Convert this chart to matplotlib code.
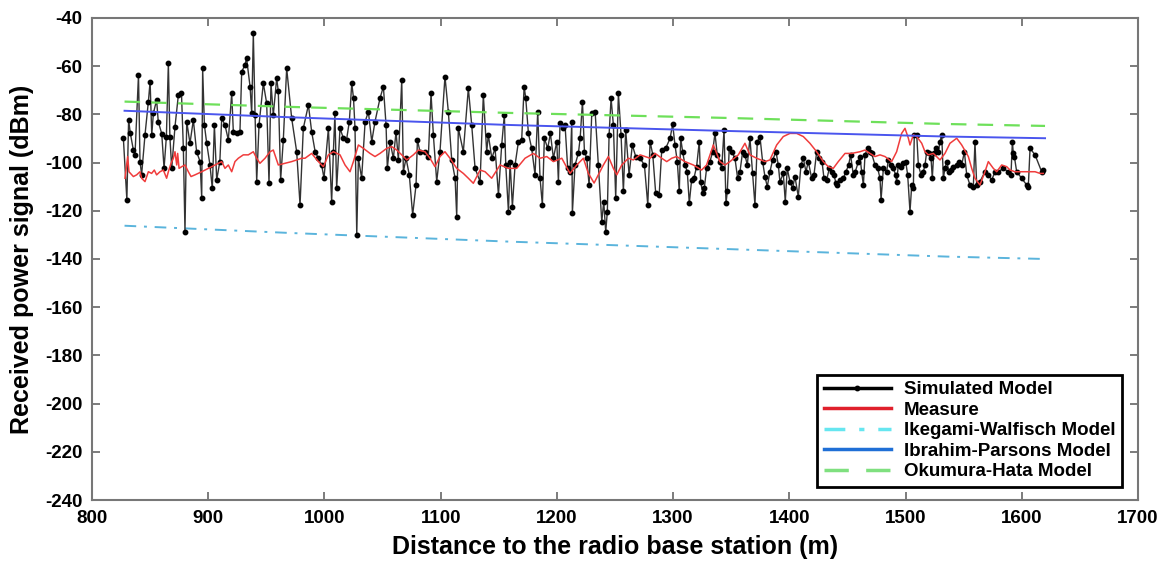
# Received power vs distance: simulated model, measurement and three empirical models

import matplotlib.pyplot as plt

plt.rcParams["font.family"] = ["Liberation Sans", "DejaVu Sans"]
plt.rcParams["font.weight"] = "bold"
plt.rcParams["axes.unicode_minus"] = False

# simulated model (distance m, dBm)
sim_x = [
    827, 830, 831.5, 833, 835.6, 837, 840, 841.3, 842.7, 845.6, 848.5, 850, 851.4, 852.8,
    855.6, 857, 860, 862, 864, 865.7, 867, 868.6, 871.4, 874.3, 877, 878.6, 880, 881.5,
    884.3, 887.2, 890, 893, 894.4, 895.2, 896.7, 898.7, 901.5, 903.5, 905.3, 907.3, 910,
    911.6, 914.4, 917.3, 920.2, 921.6, 924.5, 927.3, 928.8, 931.6, 933, 936, 937.4, 938.8,
    940.3, 941.7, 943.7, 947.4, 950.3, 952.3, 954, 956, 958.9, 960.3, 962.3, 964.6, 967.5,
    971.8, 976.1, 979, 981.8, 986.2, 989, 992, 994.8, 997.6, 999.6, 1003.4, 1006.2, 1007.7,
    1009, 1010.5, 1013.4, 1016.3, 1019, 1021.4, 1023.5, 1025, 1026.3, 1027.8, 1029.2, 1032,
    1035, 1037.8, 1040.7, 1043.5, 1047.8, 1050.7, 1053, 1054.1, 1056.4, 1059.3, 1061.6,
    1063.6, 1066.5, 1067.9, 1070.2, 1073, 1075.9, 1078.8, 1080, 1082.2, 1086.5, 1089.4,
    1091.7, 1093.7, 1096.6, 1099.4, 1103.7, 1106.6, 1109.5, 1112.4, 1113.8, 1115.2, 1119.5,
    1123.8, 1126.7, 1129.6, 1133.9, 1136.7, 1139.6, 1141, 1144, 1146.8, 1149.7, 1152.5,
    1154.8, 1156, 1158.3, 1159.7, 1161.7, 1164, 1166.9, 1169.7, 1171.8, 1173.2, 1175.5,
    1178.3, 1181.2, 1183.5, 1185.5, 1187.5, 1189.2, 1192.1, 1194.4, 1197, 1199.9, 1201.3,
    1202.7, 1205.6, 1207, 1209.3, 1211.3, 1212.8, 1213.3, 1215.6, 1218.5, 1220, 1222,
    1223.7, 1225.7, 1227.7, 1230, 1232.9, 1235.7, 1238.6, 1240.3, 1242, 1243.4, 1244.9,
    1246.6, 1248.6, 1250.6, 1252.9, 1255.2, 1257.2, 1259.2, 1262.1, 1264.9, 1267.8, 1271.5,
    1275.3, 1278.2, 1280.2, 1282.5, 1285, 1288, 1290.2, 1293.6, 1297.4, 1299.6, 1301.6,
    1303.6, 1305.3, 1306.5, 1308.2, 1310.2, 1312.2, 1313.9, 1315.9, 1317.9, 1320.2, 1322.5,
    1323.7, 1325.4, 1326.8, 1328.8, 1331.7, 1334, 1336, 1338, 1340.3, 1341.8, 1343.8,
    1345.5, 1346.6, 1348.3, 1350.4, 1353.2, 1355.5, 1357.5, 1359.8, 1361.8, 1363.8, 1366.1,
    1368.4, 1370.4, 1372.4, 1374.7, 1377, 1379, 1381, 1383.3, 1385.6, 1388.5, 1390.5,
    1391.9, 1394.8, 1396.5, 1398.2, 1400.5, 1402.8, 1404.8, 1407.7, 1410, 1412, 1414.3,
    1416.3, 1419.2, 1421.2, 1423.5, 1425.8, 1428.1, 1429.8, 1432.1, 1434.4, 1436.4, 1438.4,
    1440.1, 1441.3, 1443.6, 1446.4, 1448.7, 1451, 1452.7, 1455, 1456.7, 1459.4, 1460.8,
    1462.2, 1463.7, 1465.1, 1467.4, 1469.4, 1470.8, 1473.7, 1476, 1478, 1478.9, 1480.9,
    1483.7, 1485.2, 1487.5, 1489.5, 1491.5, 1492.3, 1493.8, 1496.1, 1498.1, 1500.1, 1501.8,
    1503.8, 1505.3, 1506.7, 1507.5, 1509.6, 1511, 1513.3, 1515.3, 1516.7, 1518.2, 1520.2,
    1521.9, 1523, 1524.2, 1525.9, 1528.2, 1529.6, 1531.1, 1532.5, 1533.9, 1535.4, 1537.4,
    1539.1, 1541.1, 1544, 1546, 1548.3, 1550.6, 1552.6, 1555.4, 1558.3, 1559.7, 1561.2,
    1564, 1568.3, 1571.2, 1574.1, 1577, 1579.8, 1584.1, 1588.4, 1590.7, 1591.9, 1592.7,
    1593.6, 1595.6, 1599.9, 1604.2, 1605.6, 1607.1, 1611.4, 1617.1, 1618.5,
]
sim_y = [
    -90, -115.5, -82.3, -87.9, -94.8, -96.8, -63.6, -99.6, -105, -88.5, -74.7, -66.4, -88.5, -79.6,
    -74, -83, -88, -102.4, -89.2, -58.8, -89.2, -102.4, -85.1, -72, -71.3, -94.1, -128.7, -83,
    -92, -82.3, -95.5, -99.6, -114.8, -60.9, -84.4, -92, -101, -110.7, -84.4, -107.2, -99.6,
    -81.6, -84.4, -90.6, -71.3, -87.2, -87.9, -87.2, -62.3, -59.5, -56.7, -68.5, -79.6, -46.4,
    -80.2, -107.9, -84.4, -67.1, -75.4, -108.6, -67.1, -80.2, -65, -70.5, -107.2, -90.6, -60.9,
    -81.6, -95.5, -117.6, -85.8, -76.1, -87.2, -95.5, -98.2, -101, -106.5, -85.8, -116.2, -95.5,
    -79.6, -110.7, -85.8, -89.9, -90.6, -83, -67.1, -73.3, -85.8, -130, -98.2, -106.5,
    -83, -78.9, -91.3, -83, -73.3, -68.5, -84.4, -102.4, -91.3, -98.2, -87.2,
    -98.9, -65.7, -103.8, -98.2, -105.1, -121.7, -109.3, -90.6, -95.5, -95.5, -97.5,
    -71.3, -88.5, -107.9, -95.5, -64.3, -78.9, -98.9, -106.5, -122.4, -85.8, -95.5,
    -69.2, -84.4, -102.4, -107.9, -72, -95.5, -88.5, -98.2, -94.1, -113.4, -92.7,
    -80.2, -101, -120.4, -99.6, -118.3, -101, -91.3, -90.6, -68.5, -73.3, -87.9,
    -94.1, -105.1, -78.9, -106.5, -117.6, -89.9, -94.1, -87.9, -98.2, -91.3, -107.9,
    -83.7, -85.8, -84.4, -102.4, -103.8, -83, -121, -101, -96.1, -89.9, -74.7,
    -95.5, -98.2, -109.3, -79.6, -78.9, -101, -124.5, -116.2, -128.7, -120.4, -88.5,
    -73.3, -84.4, -114.8, -71.3, -88.5, -112, -86.5, -105.1, -92.7, -97.5, -98.2,
    -101, -117.6, -91.3, -96.8, -112.7, -113.4, -94.8, -94.1, -89.9, -84.1, -92.7,
    -99.6, -112, -89.9, -95.5, -101, -103.8, -116.9, -107.2, -106.5, -101.7, -91.3,
    -107.9, -112.7, -110.7, -102.4, -99.6, -95.5, -87.9, -96.8, -99.6, -102.4, -86.5,
    -116.9, -112, -94.1, -95.5, -98.2, -106.5, -103.8, -95.5, -96.8, -101, -89.9,
    -104.5, -117.6, -91.3, -89.2, -99.6, -105.8, -110, -103.8, -98.9, -95.5, -101,
    -107.9, -104.5, -116.2, -102.4, -107.9, -110.7, -105.8, -114.1, -101, -98.2, -103.8,
    -99.6, -106.5, -105.1, -95.5, -98.2, -99.6, -106.5, -107.2, -102.4, -103.8, -105.1,
    -108.6, -109.3, -107.2, -106.5, -103.8, -101, -96.8, -105.1, -103.8, -99.6, -97.5,
    -103.8, -109.3, -96.8, -94.1, -95.5, -96.2, -101, -102.4, -106.5, -115.5, -102.4,
    -103.8, -98.9, -101, -102.4, -105.1, -107.9, -101, -101.7, -100.3, -99.6, -105.1,
    -120.4, -109.3, -110.7, -88.5, -88.5, -101, -105.1, -103.8, -101, -95.5, -96.2,
    -98.2, -106.5, -96.2, -94.1, -95.5, -91.3, -88.5, -106.5, -102.4, -99.6, -103.8,
    -103.1, -101.7, -101, -99.6, -101, -95.5, -105.1, -109.3, -110, -91.3, -109.3,
    -107.9, -103.8, -105.1, -107.2, -103.8, -103.8, -102.4, -103.8, -105.1, -91.3, -96.2,
    -97.5, -103.8, -106.5, -109.3, -110, -94.1, -96.8, -103.8, -103.1,
]

# measurement
meas_x = [
    828.4, 830.7, 831.8, 835.6, 838.4, 841.3, 842.7, 845.6, 848.5, 851.3, 853.6, 855.6,
    858.5, 861.4, 864.2, 865.7, 868, 870, 871.4, 872.9, 873.7, 874.9, 877.2, 880, 882.9,
    885.2, 888.6, 894.4, 900.1, 905.8, 911.6, 914.4, 917.3, 920.2, 923, 925.9, 930.2,
    934.5, 938.8, 941.7, 944.5, 948.9, 953.2, 956, 960.3, 966.1, 971.8, 980.4, 983.3,
    989, 994.8, 999.1, 1003.4, 1007.7, 1013.4, 1017.7, 1022, 1024.9, 1029.2, 1033.5,
    1039.2, 1043.5, 1047.8, 1053.6, 1057.9, 1062.2, 1066.5, 1070.8, 1076.5, 1080.8,
    1086.5, 1090.8, 1095.1, 1099.4, 1103.7, 1108, 1113.8, 1119.5, 1123.8, 1128.1,
    1133.9, 1138.2, 1143.9, 1151.1, 1158.3, 1165.4, 1172.6, 1179.8, 1185.5, 1191.3,
    1197, 1204.2, 1211.3, 1217.1, 1222.8, 1227, 1232, 1240, 1244.3, 1248.6, 1251.5,
    1255.8, 1261.5, 1265.8, 1271.6, 1275.9, 1280.2, 1284.5, 1290.2, 1294.5, 1298.8,
    1303, 1310.2, 1317.4, 1324.5, 1328.8, 1334.6, 1340.3, 1344.6, 1348.9, 1356.1,
    1361.8, 1366.1, 1371.9, 1379, 1383.3, 1389.1, 1394.8, 1400.5, 1406.3, 1412, 1417.7,
    1423.5, 1429.2, 1433.5, 1437.8, 1442.1, 1447.9, 1453.6, 1460.8, 1465.1, 1469.4,
    1473.7, 1478, 1482.3, 1488, 1492.3, 1496.6, 1499.5, 1502.4, 1503.8, 1506.7, 1509.6,
    1513.9, 1516.7, 1519.6, 1523.9, 1529.6, 1533.9, 1538.2, 1544, 1548.3, 1554, 1556.9,
    1559.7, 1564, 1568.3, 1571.2, 1575.5, 1578.4, 1582.7, 1587, 1589.9, 1594.2, 1599.9,
    1605.6, 1611.4, 1615.7, 1618.5,
]
meas_y = [
    -106.5, -97.5, -103.8, -105.8, -105.1, -103.8, -106.5, -107.9, -103.8, -104.5, -103.1, -105.1,
    -103.8, -103.1, -106.5, -103.8, -100.3, -98.2, -95.5, -101, -96.2, -102.4, -101.7, -101, -103.8,
    -105.8, -105.1, -103.8, -102.4, -101, -99.6, -102.4, -101, -103.8, -99.6, -98.2, -96.8,
    -96.8, -95.5, -98.2, -100.3, -98.2, -95.5, -94.8, -101, -100.3, -99.6, -98.2, -98.2,
    -96.2, -99.6, -101.7, -96.8, -95.5, -96.8, -101, -103.8, -99.6, -92.7, -94.1,
    -96.2, -97.5, -96.2, -94.1, -93.4, -94.8, -96.8, -98.9, -96.8, -94.8,
    -95.5, -98.2, -101.7, -97.5, -95.5, -98.2, -102.4, -104.5, -106.5, -108.6,
    -103.1, -103.8, -106.5, -101, -102.4, -102.4, -98.2, -96.2, -98.2, -97.5,
    -99.6, -98.2, -104.5, -101, -98.2, -104.4, -108.5, -101, -97.5, -102.4, -105.1,
    -101, -98.2, -98.9, -96.8, -97.5, -98.2, -96.2, -98.2, -99.6, -98.2,
    -97.5, -99.6, -101, -103.1, -101, -92.7, -99.6, -101, -99.6, -96.8,
    -92, -96.8, -98.2, -99.6, -98.9, -92.7, -89.2, -87.9, -87.9, -89.2, -92,
    -95.5, -99.6, -101.7, -102.4, -99.6, -96.2, -96.2, -95.5, -94.8, -96.2,
    -97.5, -96.8, -97.5, -99.6, -95.5, -87.9, -85.8, -89.9, -92.7, -88.5, -89.2,
    -92, -95.5, -96.8, -96.2, -98.9, -96.2, -92, -89.9, -92.7, -97.5, -102.4,
    -106.5, -109.3, -103.8, -99.6, -102.4, -103.8, -101, -101.7, -103.1, -103.8, -103.8,
    -103.8, -103.8, -104.5, -104.5,
]

# empirical models
model_x = [828, 970, 1159, 1348, 1535, 1620]
ikegami_y = [-126.2, -129.2, -132.8, -135.9, -139.0, -140.0]
ibrahim_y = [-78.5, -81.2, -84.4, -86.9, -89.2, -89.9]
okumura_y = [-74.7, -76.9, -79.4, -81.5, -84.0, -84.8]

fig = plt.figure(figsize=(11.69, 5.61), dpi=100)
ax = fig.add_axes([0.0787, 0.1087, 0.8948, 0.8593])

ax.plot(sim_x, sim_y, color="#333333", lw=1.0, marker="o", ms=3.2,
        mfc="black", mec="black", label="Simulated Model", zorder=3)
ax.plot(meas_x, meas_y, color="#f03c3c", lw=1.1, label="Measure", zorder=4)
ax.plot(model_x, ikegami_y, color="#5ab4dc", lw=1.4, ls=(0, (6, 4, 1.5, 4)),
        label="Ikegami-Walfisch Model")
ax.plot(model_x, ibrahim_y, color="#4a55ee", lw=1.4, label="Ibrahim-Parsons Model", zorder=5)
ax.plot(model_x, okumura_y, color="#6ee05a", lw=1.6, ls=(0, (7, 5)),
        label="Okumura-Hata Model", zorder=5)

ax.set_xlim(800, 1700)
ax.set_ylim(-240, -40)
ax.set_xticks(range(800, 1701, 100))
ax.set_yticks(range(-240, -39, 20))
ax.tick_params(direction="in", top=True, right=True, length=6, width=1.2,
               color="#666666", labelsize=13.5, pad=7)
for lbl in ax.get_xticklabels() + ax.get_yticklabels():
    lbl.set_fontweight("bold")
for sp in ax.spines.values():
    sp.set_color("#777777")
    sp.set_linewidth(1.5)

ax.set_xlabel("Distance to the radio base station (m)", fontsize=18, fontweight="bold", labelpad=6)
ax.set_ylabel("Received power signal (dBm)", fontsize=18, fontweight="bold", labelpad=8)

leg = ax.legend(loc="lower right", bbox_to_anchor=(0.985, 0.027), borderaxespad=0,
                fancybox=False, framealpha=1, edgecolor="black", handlelength=3.6,
                handletextpad=0.7, labelspacing=0.18, borderpad=0.35,
                prop={"weight": "bold", "size": 13.5})
leg.get_frame().set_linewidth(2)
legend_colors = ["black", "#e0202c", "#66e6f0", "#1f6fd6", "#7fe07f"]
for line, c in zip(leg.get_lines(), legend_colors):
    line.set_linewidth(2.5)
    line.set_color(c)

plt.savefig("out.png", dpi=100)
